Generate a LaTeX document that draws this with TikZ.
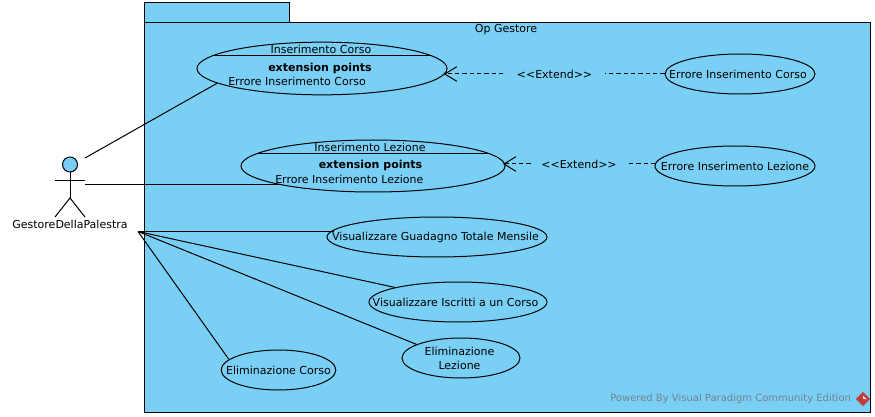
\documentclass[tikz,border=0pt]{standalone}
\usepackage{fontspec}
\setmainfont{DejaVu Sans}
\usetikzlibrary{arrows.meta,shapes.geometric}
\definecolor{pkgblue}{RGB}{122,207,245}
\definecolor{wmgray}{RGB}{115,130,140}
\definecolor{logored}{RGB}{195,60,60}
\tikzset{
  x=0.75pt,y=-0.75pt,
  every node/.style={font=\fontsize{8.25pt}{10.5pt}\selectfont,text=black,inner sep=0pt},
  shapeline/.style={draw=black,line width=0.75pt},
  usecase/.style={ellipse,shapeline,fill=pkgblue,inner sep=0pt},
  uctext/.style 2 args={label={[align=center,xshift=#1*0.75pt]center:#2}},
  assoc/.style={draw=black,line width=0.75pt},
  extendline/.style={draw=black,line width=0.75pt,dash pattern=on 3.2pt off 2.3pt,shorten >=-1.5pt,-{Straight Barb[length=9pt,width=11pt,line width=0.75pt]}},
  extlabel/.style={fill=pkgblue,minimum height=9pt},
  compart/.style={draw=black,line width=0.75pt},
}
\begin{document}
\begin{tikzpicture}
\useasboundingbox (0,0) rectangle (875,417);
% package
\node[shapeline,fill=pkgblue,minimum width=108.75pt,minimum height=15pt,anchor=north west] (tab) at (144,2) {};
\node[shapeline,fill=pkgblue,minimum width=544.5pt,minimum height=292.5pt,anchor=north west] (pkg) at (144,22) {};
\node (pkgtitle) at (506,29.5) {Op Gestore};
% use cases
\node[usecase,minimum width=187.5pt,minimum height=39.5pt] (uc1) at (322,68.5) {};
\node[usecase,minimum width=198pt,minimum height=39pt] (uc2) at (373,166) {};
\node[usecase,minimum width=112.5pt,minimum height=30pt,uctext={-2}{Errore Inserimento Corso}] (err1) at (740,74) {};
\node[usecase,minimum width=120pt,minimum height=30pt,uctext={0}{Errore Inserimento Lezione}] (err2) at (735,166) {};
\node[usecase,minimum width=165pt,minimum height=30pt,uctext={-1.5}{Visualizzare Guadagno Totale Mensile}] (uc3) at (437,237) {};
\node[usecase,minimum width=133.5pt,minimum height=30pt,uctext={-2.5}{Visualizzare Iscritti a un Corso}] (uc4) at (458,302) {};
\node[usecase,minimum width=88.5pt,minimum height=30pt,uctext={-1.5}{Eliminazione\\Lezione}] (uc5) at (461,358) {};
\node[usecase,minimum width=86pt,minimum height=30pt,uctext={0}{Eliminazione Corso}] (uc6) at (278.5,370) {};
% compartments of the extended use cases
\draw[compart] (uc1.center) ++(-110,-12.5) -- ++(220,0);
\draw[compart] (uc2.center) ++(-115.5,-12) -- ++(231,0);
\node (uc1name) at (321,49) {Inserimento Corso};
\node[font=\fontsize{8.25pt}{10pt}\selectfont\bfseries] (uc1ext) at (320,68) {extension points};
\node[anchor=west] (uc1pt) at (228,81.5) {Errore Inserimento Corso};
\node (uc2name) at (370,147) {Inserimento Lezione};
\node[font=\fontsize{8.25pt}{10pt}\selectfont\bfseries] (uc2ext) at (370.5,165.5) {extension points};
\node[anchor=west] (uc2pt) at (275,179.5) {Errore Inserimento Lezione};
% actor
\node[circle,shapeline,fill=pkgblue,minimum size=11.25pt] (head) at (70,164.5) {};
\coordinate (waist) at (70,198);
\coordinate (armL) at (55,181);
\coordinate (armR) at (85,181);
\coordinate (legL) at (55,217);
\coordinate (legR) at (85,217);
\draw[assoc] (head.south) -- (waist);
\draw[assoc] (armL) -- (armR);
\draw[assoc] (legL) -- (waist) -- (legR);
\node (actor) at (70,224.5) {GestoreDellaPalestra};
% associations
\coordinate (a1) at (85,158);
\coordinate (a2) at (85,185);
\coordinate (hub) at (138,231.5);
\draw[assoc] (a1) -- (uc1.188);
\draw[assoc] (a2) -- (uc2.192 |- a2);
\draw[assoc] (hub) -- (uc3.176.9 |- hub);
\draw[assoc] (hub) -- (uc4.167.8);
\draw[assoc] (hub) -- (uc5.163.5);
\draw[assoc] (hub) -- (uc6.168.8);
% extends
\coordinate (e1) at (600,74);
\coordinate (e2) at (600,164);
\draw[extendline] (err1.west |- e1) -- (uc1.-2.6 |- e1);
\draw[extendline] (err2.178.6 |- e2) -- (uc2.1 |- e2);
\node[extlabel,minimum width=76pt] (ext1) at (554.5,74) {<{}<Extend>{}>};
\node[extlabel,minimum width=72pt] (ext2) at (579,164) {<{}<Extend>{}>};
% watermark
\node[anchor=west,text=wmgray,font=\fontsize{7.5pt}{9pt}\selectfont] (wm) at (610,399) {Powered By Visual Paradigm Community Edition};
\node[diamond,fill=logored,minimum size=11pt] (logo) at (863,399) {};
\fill[white] (863,396) -- (867,399.5) -- (863,398.5) -- cycle;
\end{tikzpicture}
\end{document}
